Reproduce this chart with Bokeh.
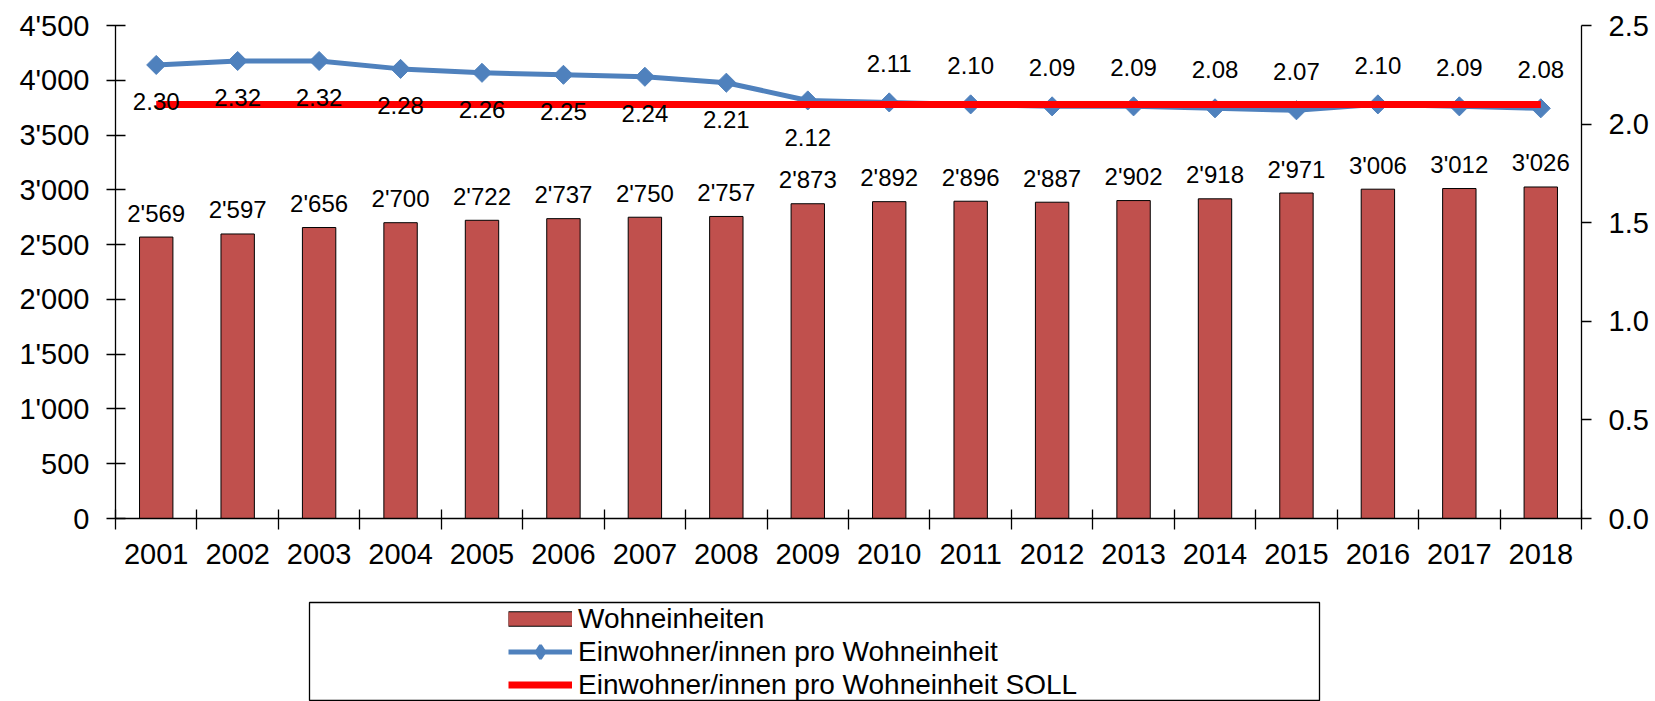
import math
from bokeh.plotting import figure
from bokeh.layouts import column
from bokeh.models import (Range1d, LinearAxis, FixedTicker, ColumnDataSource, Legend, LegendItem,
                          NumeralTickFormatter)
from bokeh.core.properties import value
from bokeh.embed import file_html
from bokeh.resources import INLINE

# ---------------- data ----------------
years = ["2001", "2002", "2003", "2004", "2005", "2006", "2007", "2008", "2009",
         "2010", "2011", "2012", "2013", "2014", "2015", "2016", "2017", "2018"]
wohneinheiten = [2569, 2597, 2656, 2700, 2722, 2737, 2750, 2757, 2873,
                 2892, 2896, 2887, 2902, 2918, 2971, 3006, 3012, 3026]
einwohner_pro_we = [2.30, 2.32, 2.32, 2.28, 2.26, 2.25, 2.24, 2.21, 2.12,
                    2.11, 2.10, 2.09, 2.09, 2.08, 2.07, 2.10, 2.09, 2.08]
einwohner_soll = [2.10, 2.10, 2.10, 2.10, 2.10, 2.10, 2.10, 2.10, 2.10,
                  2.10, 2.10, 2.10, 2.10, 2.10, 2.10, 2.10, 2.10, 2.10]
ratio_label_side = ["below"] * 9 + ["above"] * 9
left_ticks = [0, 500, 1000, 1500, 2000, 2500, 3000, 3500, 4000, 4500]
left_tick_labels = ["0", "500", "1'000", "1'500", "2'000", "2'500", "3'000", "3'500", "4'000", "4'500"]
right_ticks = [0.0, 0.5, 1.0, 1.5, 2.0, 2.5]

series_names = ["Wohneinheiten", "Einwohner/innen pro Wohneinheit",
                "Einwohner/innen pro Wohneinheit SOLL"]

# ---------------- styles ----------------
FONT = "Liberation Sans"
BAR_COLOR = "#C0504D"
BLUE = "#4F81BD"
RED = "#FF0000"
W = 1655
AXW = 1.3

x = list(range(len(years)))
src = ColumnDataSource(dict(
    x=x,
    we=wohneinheiten,
    we_label=[f"{v:,}".replace(",", "'") for v in wohneinheiten],
    ratio=einwohner_pro_we,
    ratio_label=[f"{v:.2f}" for v in einwohner_pro_we],
    ratio_off=[37 if s == "below" else -39 for s in ratio_label_side],
    soll=einwohner_soll,
))

p = figure(width=W, height=598, x_range=Range1d(-0.5, len(years) - 0.5),
           y_range=Range1d(0, 4500), output_backend="svg", toolbar_location=None,
           min_border_left=115, min_border_right=74, min_border_top=25, min_border_bottom=80)
p.frame_align = False
p.extra_y_ranges = {"ratio": Range1d(0, 2.5)}
p.outline_line_color = None
p.xgrid.visible = False
p.ygrid.ticker = FixedTicker(ticks=[4500])
p.ygrid.grid_line_color = "#C8C8C8"
p.ygrid.grid_line_width = 1

# bars
p.vbar(x="x", top="we", width=0.41, source=src, fill_color=BAR_COLOR,
       line_color="#000000", line_width=1)
# blue line
p.line("x", "ratio", source=src, y_range_name="ratio", line_color=BLUE, line_width=5)
p.scatter("x", "ratio", source=src, y_range_name="ratio", marker="square",
          angle=math.pi / 4, size=13.5, fill_color=BLUE, line_color=BLUE)
# red target line
p.line("x", "soll", source=src, y_range_name="ratio", line_color=RED, line_width=7)

# labels
p.text("x", "we", text="we_label", source=src, y_offset=-24, text_align="center",
       text_baseline="middle", text_font=value(FONT), text_font_size="24px", text_color="#000000")
p.text("x", "ratio", text="ratio_label", source=src, y_range_name="ratio", y_offset="ratio_off",
       text_align="center", text_baseline="middle", text_font=value(FONT),
       text_font_size="24px", text_color="#000000")

# axes
xa = p.xaxis[0]
xa.ticker = FixedTicker(ticks=x, minor_ticks=[i - 0.5 for i in range(len(years) + 1)])
xa.major_label_overrides = {i: y for i, y in zip(x, years)}
xa.major_tick_in = 0
xa.major_tick_out = 0
xa.minor_tick_in = 9
xa.minor_tick_out = 11
xa.minor_tick_line_color = "#000000"
xa.minor_tick_line_width = AXW
xa.axis_line_color = "#000000"
xa.axis_line_width = AXW
xa.major_label_standoff = 14
xa.major_label_text_font = FONT
xa.major_label_text_font_size = "29px"
xa.major_label_text_color = "#000000"

ya = p.yaxis[0]
ya.ticker = FixedTicker(ticks=left_ticks)
ya.major_label_overrides = {t: l for t, l in zip(left_ticks, left_tick_labels)}
ya.major_tick_in = 10
ya.major_tick_out = 9
ya.minor_tick_in = 0
ya.minor_tick_out = 0
ya.major_tick_line_color = "#000000"
ya.major_tick_line_width = AXW
ya.axis_line_color = "#000000"
ya.axis_line_width = AXW
ya.major_label_standoff = 17
ya.major_label_text_font = FONT
ya.major_label_text_font_size = "29px"
ya.major_label_text_color = "#000000"

ra = LinearAxis(y_range_name="ratio", ticker=FixedTicker(ticks=right_ticks),
                formatter=NumeralTickFormatter(format="0.0"))
ra.major_tick_in = 0
ra.major_tick_out = 10
ra.minor_tick_in = 0
ra.minor_tick_out = 0
ra.major_tick_line_color = "#000000"
ra.major_tick_line_width = AXW
ra.axis_line_color = "#000000"
ra.axis_line_width = AXW
ra.major_label_standoff = 17
ra.major_label_text_font = FONT
ra.major_label_text_font_size = "29px"
ra.major_label_text_color = "#000000"
p.add_layout(ra, "right")

# ---------------- legend panel ----------------
q = figure(width=W, height=103, x_range=Range1d(0, 1), y_range=Range1d(0, 1),
           output_backend="svg", toolbar_location=None,
           x_axis_location=None, y_axis_location=None,
           min_border_left=309, min_border_right=W - 1319, min_border_top=4, min_border_bottom=0)
q.frame_align = False
q.grid.visible = False
q.outline_line_color = "#000000"
q.outline_line_width = 1.3

# legend swatch renderers (a single NaN point: never drawn in the frame)
nan = float("nan")
dummy = ColumnDataSource(dict(x=[nan], y=[nan]))
sw_outline = q.line("x", "y", source=dummy, line_color="#000000", line_width=15.5)
sw_fill = q.line("x", "y", source=dummy, line_color=BAR_COLOR, line_width=13.5)
lg_blue_line = q.line("x", "y", source=dummy, line_color=BLUE, line_width=5)
lg_blue_pts = q.scatter("x", "y", source=dummy, marker="diamond",
                        fill_color=BLUE, line_color=BLUE, line_width=3)
lg_red = q.line("x", "y", source=dummy, line_color=RED, line_width=7)

legend = Legend(items=[
    LegendItem(label=series_names[0], renderers=[sw_outline, sw_fill]),
    LegendItem(label=series_names[1], renderers=[lg_blue_line, lg_blue_pts]),
    LegendItem(label=series_names[2], renderers=[lg_red]),
], location=(199, 0), orientation="vertical", padding=0, margin=0, spacing=0,
    glyph_width=64, glyph_height=33, label_height=33, label_standoff=6,
    label_text_font=FONT, label_text_font_size="28px", label_text_color="#000000",
    border_line_alpha=0, background_fill_alpha=0)
q.add_layout(legend, "center")

layout = column(p, q, spacing=0)
open("out.html", "w").write(file_html(layout, INLINE))
